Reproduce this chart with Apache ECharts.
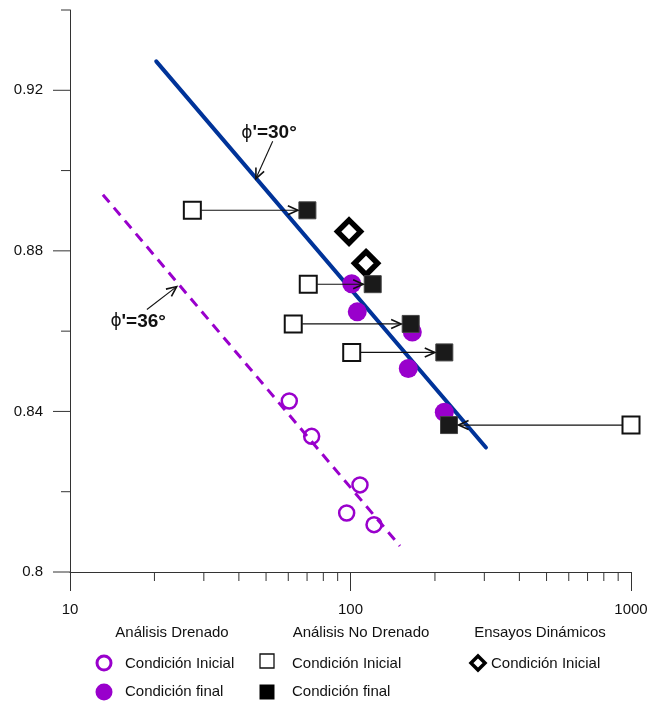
<!DOCTYPE html>
<html><head><meta charset="utf-8">
<script src="https://cdn.jsdelivr.net/npm/echarts@6/dist/echarts.min.js"></script>
<style>html,body{margin:0;padding:0;background:#fff}#c{width:651px;height:702px}</style>
</head><body><div id="c"></div>
<script>
// ---- axis ticks ----
const xMajorTicks = [10, 100, 1000];
const xMinorTicks = [20, 30, 40, 50, 60, 70, 80, 90, 200, 300, 400, 500, 600, 700, 800, 900];
const yMajorTicks = [0.8, 0.84, 0.88, 0.92];
const yMinorTicks = [0.82, 0.86, 0.90, 0.94];

// ---- reference lines ----
const line30P = [20.3, 304];
const line30E = [0.9272, 0.8310];
const line36P = [13.1, 150];
const line36E = [0.8940, 0.8065];

// ---- Análisis Drenado ----
const drInitP = [60.5, 72.7, 108.1, 96.9, 121.3];
const drInitE = [0.8426, 0.8338, 0.8217, 0.8147, 0.8118];
const drFinalP = [101, 105.7, 166.1, 160.7, 216];
const drFinalE = [0.8718, 0.8648, 0.8598, 0.8507, 0.8398];

// ---- Análisis No Drenado ----
const udInitP = [27.3, 70.7, 62.5, 101, 1000];
const udInitE = [0.8901, 0.8717, 0.8618, 0.8547, 0.8366];
const udFinalP = [70.2, 120, 163.9, 216, 224.5];
const udFinalE = [0.8901, 0.8717, 0.8618, 0.8547, 0.8366];

// ---- Ensayos Dinámicos ----
const dynP = [98.8, 113.6];
const dynE = [0.8848, 0.8769];

// ---- annotations ----
const annotPhi = ['30', '36'];
const annotTextP = [51.2, 17.5];
const annotTextE = [0.9093, 0.8623];
const annotFromP = [52.8, 18.8];
const annotFromE = [0.9073, 0.8654];
const annotToP = [46.0, 24.0];
const annotToE = [0.8980, 0.8711];

const FONT = "'Liberation Sans', Arial, sans-serif";
const PURPLE = '#9900cc';
const zip = (a, b) => a.map((v, i) => [v, b[i]]);

function arrowGroup(p0, p1, trimS, trimE, headLen, headAng, style) {
  const dx = p1[0] - p0[0], dy = p1[1] - p0[1];
  const L = Math.hypot(dx, dy) || 1;
  const ux = dx / L, uy = dy / L;
  const s = [p0[0] + ux * trimS, p0[1] + uy * trimS];
  const e = [p1[0] - ux * trimE, p1[1] - uy * trimE];
  const bx = -ux, by = -uy, ca = Math.cos(headAng), sa = Math.sin(headAng);
  const h1 = [e[0] + headLen * (bx * ca - by * sa), e[1] + headLen * (bx * sa + by * ca)];
  const h2 = [e[0] + headLen * (bx * ca + by * sa), e[1] + headLen * (-bx * sa + by * ca)];
  return { type: 'group', children: [
    { type: 'line', shape: { x1: s[0], y1: s[1], x2: e[0], y2: e[1] }, style: Object.assign({ fill: null }, style) },
    { type: 'polyline', shape: { points: [h1, e, h2] }, style: Object.assign({ fill: null }, style, { lineWidth: 1.6 }) }
  ]};
}

const chart = echarts.init(document.getElementById('c'), null, { renderer: 'canvas' });

const tickData = []
  .concat(xMinorTicks.map(v => [v, 0.8, 0, 9]))
  .concat(yMajorTicks.map(v => [10, v, -17, 0]))
  .concat(yMinorTicks.map(v => [10, v, -9, 0]));

const option = {
  animation: false,
  backgroundColor: '#fff',
  grid: { left: 70, right: 20, top: 10, bottom: 130, containLabel: false, outerBoundsMode: 'none' },
  xAxis: {
    type: 'log', logBase: 10, min: 10, max: 1000,
    axisLine: { show: true, lineStyle: { color: '#333', width: 1 } },
    axisTick: { show: true, length: 19, inside: false, lineStyle: { color: '#333', width: 1 } },
    minorTick: { show: false },
    splitLine: { show: false },
    axisLabel: { margin: 30, fontSize: 15, color: '#111', fontFamily: FONT,
      formatter: v => String(Math.round(v)) }
  },
  yAxis: {
    type: 'value', min: 0.8, max: 0.94, interval: 0.04,
    axisLine: { show: true, lineStyle: { color: '#333', width: 1 } },
    axisTick: { show: false },
    splitLine: { show: false },
    axisLabel: { margin: 27, fontSize: 15, color: '#111', fontFamily: FONT, showMaxLabel: false,
      formatter: v => String(Math.round(v * 100) / 100) }
  },
  series: [
    { type: 'custom', name: 'ticks', clip: false, silent: true, z: 1,
      data: tickData,
      renderItem: (params, api) => {
        const p = api.coord([api.value(0), api.value(1)]);
        return { type: 'line', shape: { x1: p[0], y1: p[1], x2: p[0] + api.value(2), y2: p[1] + api.value(3) },
          style: { stroke: '#333', lineWidth: 1 } };
      } },
    { type: 'line', name: 'phi30', data: zip(line30P, line30E), showSymbol: false, symbol: 'none', z: 2,
      lineStyle: { color: '#003399', width: 4, cap: 'round' } },
    { type: 'line', name: 'phi36', data: zip(line36P, line36E), showSymbol: false, symbol: 'none', z: 2,
      lineStyle: { color: PURPLE, width: 3, type: [10, 7] } },
    { type: 'scatter', name: 'drInit', data: zip(drInitP, drInitE), symbol: 'circle', symbolSize: 15, z: 3,
      itemStyle: { color: 'rgba(255,255,255,0)', borderColor: PURPLE, borderWidth: 2.5, opacity: 1 } },
    { type: 'scatter', name: 'drFinal', data: zip(drFinalP, drFinalE), symbol: 'circle', symbolSize: 19, z: 3,
      itemStyle: { color: PURPLE, opacity: 1 } },
    { type: 'scatter', name: 'dyn', data: zip(dynP, dynE), symbol: 'diamond', symbolSize: [23, 23], z: 4,
      itemStyle: { color: '#fff', borderColor: '#000', borderWidth: 5.5, opacity: 1 } },
    { type: 'scatter', name: 'udInit', data: zip(udInitP, udInitE), symbol: 'rect', symbolSize: 17, z: 4,
      itemStyle: { color: '#fff', borderColor: '#111', borderWidth: 2, opacity: 1 } },
    { type: 'scatter', name: 'udFinal', data: zip(udFinalP, udFinalE), symbol: 'rect', symbolSize: 17, z: 4,
      itemStyle: { color: '#1a1a1a', borderColor: '#444', borderWidth: 1, opacity: 1 } },
    { type: 'custom', name: 'udArrows', clip: false, silent: true, z: 5,
      data: udInitP.map((v, i) => [v, udInitE[i], udFinalP[i], udFinalE[i]]),
      encode: { x: [0, 2], y: [1, 3] },
      renderItem: (params, api) => {
        const p0 = api.coord([api.value(0), api.value(1)]);
        const p1 = api.coord([api.value(2), api.value(3)]);
        return arrowGroup(p0, p1, 9, 9.5, 11, 0.42, { stroke: '#111', lineWidth: 1.1 });
      } },
    { type: 'custom', name: 'annot', clip: false, silent: true, z: 6,
      data: annotPhi.map((t, i) => [annotTextP[i], annotTextE[i], annotFromP[i], annotFromE[i], annotToP[i], annotToE[i]]),
      encode: { x: [0, 2, 4], y: [1, 3, 5] },
      renderItem: (params, api) => {
        const i = params.dataIndex;
        const pt = api.coord([api.value(0), api.value(1)]);
        const pf = api.coord([api.value(2), api.value(3)]);
        const pe = api.coord([api.value(4), api.value(5)]);
        const arrow = arrowGroup(pf, pe, 0, 0, 11, 0.42, { stroke: '#111', lineWidth: 1.1 });
        return { type: 'group', children: [
          arrow,
          { type: 'text', x: pt[0], y: pt[1], style: {
              text: '{a|\u03D5}{b|\'=' + annotPhi[i] + '°}',
              align: 'center', verticalAlign: 'middle',
              rich: {
                a: { fontFamily: "'DejaVu Sans', sans-serif", fontSize: 17, fontWeight: 'normal', fill: '#111' },
                b: { fontFamily: FONT, fontSize: 19, fontWeight: 'bold', fill: '#111' }
              } } }
        ]};
      } }
  ],
  graphic: { elements: [
    { type: 'text', x: 172, y: 633, style: { text: 'Análisis Drenado', font: '15px ' + FONT, fill: '#111', align: 'center', verticalAlign: 'middle' } },
    { type: 'text', x: 361, y: 633, style: { text: 'Análisis No Drenado', font: '15px ' + FONT, fill: '#111', align: 'center', verticalAlign: 'middle' } },
    { type: 'text', x: 540, y: 633, style: { text: 'Ensayos Dinámicos', font: '15px ' + FONT, fill: '#111', align: 'center', verticalAlign: 'middle' } },

    { type: 'circle', shape: { cx: 104, cy: 663, r: 7 }, style: { fill: '#fff', stroke: PURPLE, lineWidth: 3 } },
    { type: 'text', x: 125, y: 664, style: { text: 'Condición Inicial', font: '15px ' + FONT, fill: '#111', verticalAlign: 'middle' } },
    { type: 'circle', shape: { cx: 104, cy: 692, r: 8.5 }, style: { fill: PURPLE } },
    { type: 'text', x: 125, y: 692, style: { text: 'Condición final', font: '15px ' + FONT, fill: '#111', verticalAlign: 'middle' } },

    { type: 'rect', shape: { x: 260, y: 654, width: 14, height: 14 }, style: { fill: '#fff', stroke: '#111', lineWidth: 1.3 } },
    { type: 'text', x: 292, y: 664, style: { text: 'Condición Inicial', font: '15px ' + FONT, fill: '#111', verticalAlign: 'middle' } },
    { type: 'rect', shape: { x: 259.5, y: 684.5, width: 15, height: 15 }, style: { fill: '#000' } },
    { type: 'text', x: 292, y: 692, style: { text: 'Condición final', font: '15px ' + FONT, fill: '#111', verticalAlign: 'middle' } },

    { type: 'polygon', shape: { points: [[478, 656], [485, 663], [478, 670], [471, 663]] }, style: { fill: '#fff', stroke: '#000', lineWidth: 3.5 } },
    { type: 'text', x: 491, y: 664, style: { text: 'Condición Inicial', font: '15px ' + FONT, fill: '#111', verticalAlign: 'middle' } }
  ] }
};
chart.setOption(option);
</script>
</body></html>
